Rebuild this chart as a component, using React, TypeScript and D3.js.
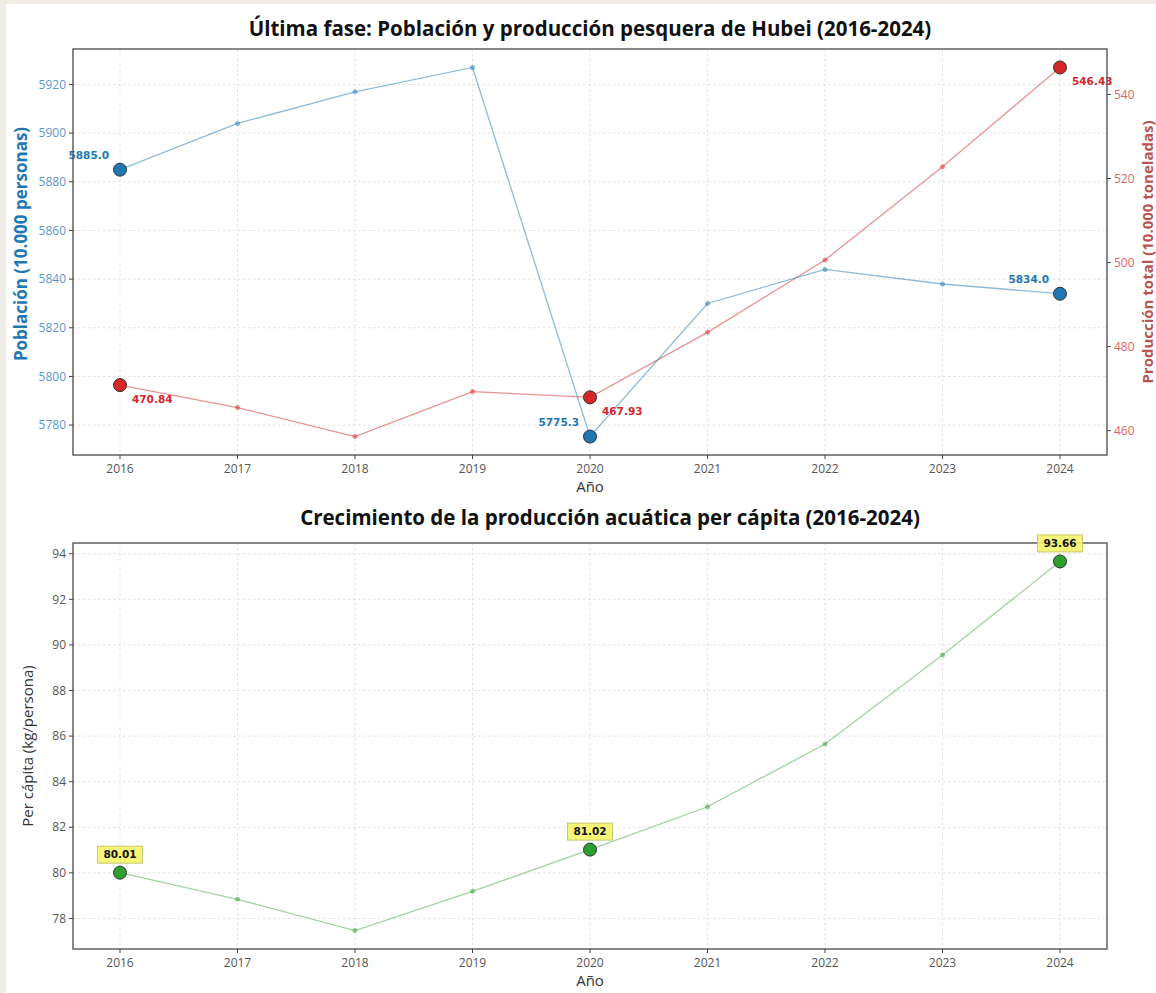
import * as d3 from "d3";

// Data
const years = [2016, 2017, 2018, 2019, 2020, 2021, 2022, 2023, 2024];
const population = [5885.0, 5904, 5917, 5927, 5775.3, 5830, 5844, 5838, 5834.0];
const production = [470.84, 465.5, 458.6, 469.3, 467.93, 483.4, 500.6, 522.8, 546.43];
const perCapita = [80.01, 78.84, 77.47, 79.19, 81.02, 82.9, 85.65, 89.56, 93.66];

const popTicks = [5780, 5800, 5820, 5840, 5860, 5880, 5900, 5920];
const prodTicks = [460, 480, 500, 520, 540];
const pcTicks = [78, 80, 82, 84, 86, 88, 90, 92, 94];

// indices of highlighted points
const popMarked = [0, 4, 8];
const prodMarked = [0, 4, 8];
const pcMarked = [0, 4, 8];

const W = 1156;
const H = 993;
const FONT = "'Open Sans', 'Noto Sans', sans-serif";
const NUMFONT = "'DejaVu Sans', sans-serif";

const BLUE = "#1f77b4";
const RED = "#d62728";
const GREEN = "#2ca02c";

function pad(ext: [number, number]): [number, number] {
  const m = (ext[1] - ext[0]) * 0.05;
  return [ext[0] - m, ext[1] + m];
}

export default function App() {
  const left = 73;
  const right = 1107;

  const x = d3.scaleLinear().domain([2015.6, 2024.4]).range([left, right]);

  // top panel
  const t = { top: 49, bottom: 455 };
  const yPop = d3.scaleLinear().domain(pad(d3.extent(population) as [number, number])).range([t.bottom, t.top]);
  const yProd = d3.scaleLinear().domain(pad(d3.extent(production) as [number, number])).range([t.bottom, t.top]);

  // bottom panel
  const b = { top: 543, bottom: 949 };
  const yPc = d3.scaleLinear().domain(pad(d3.extent(perCapita) as [number, number])).range([b.bottom, b.top]);

  const linePop = d3.line<number>().x((_, i) => x(years[i])).y((d) => yPop(d));
  const lineProd = d3.line<number>().x((_, i) => x(years[i])).y((d) => yProd(d));
  const linePc = d3.line<number>().x((_, i) => x(years[i])).y((d) => yPc(d));

  const grid = (top: number, bottom: number, ys: number[]) => (
    <g stroke="#dcdcdc" strokeWidth={0.8} strokeDasharray="2.5,2.5">
      {years.map((yr) => (
        <line key={"v" + yr} x1={x(yr)} x2={x(yr)} y1={top} y2={bottom} />
      ))}
      {ys.map((v, i) => (
        <line key={"h" + i} x1={left} x2={right} y1={v} y2={v} />
      ))}
    </g>
  );

  const xAxis = (bottom: number) => (
    <g>
      {years.map((yr) => (
        <g key={yr} transform={`translate(${x(yr)},${bottom})`}>
          <line y2={4} stroke="#444" />
          <text y={18} textAnchor="middle" fontSize={12} fill="#555" fontFamily={FONT}>
            {yr}
          </text>
        </g>
      ))}
    </g>
  );

  const frame = (top: number, bottom: number) => (
    <rect x={left} y={top} width={right - left} height={bottom - top} fill="none" stroke="#555" strokeWidth={1.4} />
  );

  return (
    <div style={{ position: "absolute", left: 0, top: 0 }}>
      <svg width={W} height={H} style={{ display: "block" }}>
        <rect width={W} height={H} fill="#f0ede6" />
        <rect x={6} y={4} width={W - 6} height={H - 4} fill="#ffffff" />

        {/* ===== top panel ===== */}
        <text x={590} y={36} textAnchor="middle" fontSize={20.5} fontWeight={700} fill="#111" fontFamily={FONT}>
          Última fase: Población y producción pesquera de Hubei (2016-2024)
        </text>
        {grid(t.top, t.bottom, popTicks.map((v) => yPop(v)))}

        <path d={lineProd(production) || ""} fill="none" stroke={RED} strokeOpacity={0.5} strokeWidth={1.3} />
        {production.map((v, i) => (
          <circle key={"pr" + i} cx={x(years[i])} cy={yProd(v)} r={2.5} fill={RED} fillOpacity={0.5} />
        ))}
        <path d={linePop(population) || ""} fill="none" stroke={BLUE} strokeOpacity={0.5} strokeWidth={1.3} />
        {population.map((v, i) => (
          <circle key={"po" + i} cx={x(years[i])} cy={yPop(v)} r={2.5} fill={BLUE} fillOpacity={0.5} />
        ))}

        {prodMarked.map((i) => (
          <circle key={"prm" + i} cx={x(years[i])} cy={yProd(production[i])} r={6.5} fill={RED} stroke="#333" strokeWidth={1} />
        ))}
        {popMarked.map((i) => (
          <circle key={"pom" + i} cx={x(years[i])} cy={yPop(population[i])} r={6.5} fill={BLUE} stroke="#333" strokeWidth={1} />
        ))}

        {popMarked.map((i) => (
          <text
            key={"pol" + i}
            x={x(years[i]) - 11}
            y={yPop(population[i]) - 11}
            textAnchor="end"
            fontSize={10.5}
            fontWeight={700}
            fill={BLUE}
            fontFamily={NUMFONT}
          >
            {population[i].toFixed(1)}
          </text>
        ))}
        {prodMarked.map((i) => (
          <text
            key={"prl" + i}
            x={x(years[i]) + 12}
            y={yProd(production[i]) + 18}
            fontSize={10.5}
            fontWeight={700}
            fill={RED}
            fontFamily={NUMFONT}
          >
            {production[i].toFixed(2)}
          </text>
        ))}

        {frame(t.top, t.bottom)}
        {xAxis(t.bottom)}

        {/* left axis */}
        {popTicks.map((v) => (
          <g key={"lt" + v} transform={`translate(${left},${yPop(v)})`}>
            <line x2={-4} stroke="#444" />
            <text x={-7} dy="0.35em" textAnchor="end" fontSize={12} fill="#5a97cf" fontFamily={FONT}>
              {v}
            </text>
          </g>
        ))}
        {/* right axis */}
        {prodTicks.map((v) => (
          <g key={"rt" + v} transform={`translate(${right},${yProd(v)})`}>
            <line x2={4} stroke="#444" />
            <text x={7} dy="0.35em" fontSize={12} fill="#e06666" fontFamily={FONT}>
              {v}
            </text>
          </g>
        ))}

        <text
          transform={`translate(27,${(t.top + t.bottom) / 2 - 8}) rotate(-90)`}
          textAnchor="middle"
          fontSize={17}
          fontWeight={700}
          fill={BLUE}
          fontFamily={FONT}
        >
          Población (10.000 personas)
        </text>
        <text
          transform={`translate(1153,${(t.top + t.bottom) / 2}) rotate(-90)`}
          textAnchor="middle"
          fontSize={15}
          fontWeight={700}
          fill="#b85450"
          fontFamily={FONT}
        >
          Producción total (10.000 toneladas)
        </text>
        <text x={590} y={492} textAnchor="middle" fontSize={15} fill="#333" fontFamily={FONT}>
          Año
        </text>

        {/* ===== bottom panel ===== */}
        <text x={610} y={525} textAnchor="middle" fontSize={20.5} fontWeight={700} fill="#111" fontFamily={FONT}>
          Crecimiento de la producción acuática per cápita (2016-2024)
        </text>
        {grid(b.top, b.bottom, pcTicks.map((v) => yPc(v)))}

        <path d={linePc(perCapita) || ""} fill="none" stroke={GREEN} strokeOpacity={0.45} strokeWidth={1.3} />
        {perCapita.map((v, i) => (
          <circle key={"pc" + i} cx={x(years[i])} cy={yPc(v)} r={2.5} fill={GREEN} fillOpacity={0.5} />
        ))}
        {pcMarked.map((i) => (
          <circle key={"pcm" + i} cx={x(years[i])} cy={yPc(perCapita[i])} r={6.5} fill={GREEN} stroke="#333" strokeWidth={1} />
        ))}

        {frame(b.top, b.bottom)}
        {pcMarked.map((i) => {
          const cx = x(years[i]);
          const cy = yPc(perCapita[i]) - 18;
          return (
            <g key={"pcl" + i}>
              <rect x={cx - 22.5} y={cy - 8.5} width={45} height={17} fill="#f4f46a" fillOpacity={0.9} stroke="#bdbd60" strokeWidth={0.8} />
              <text x={cx} y={cy} dy="0.36em" textAnchor="middle" fontSize={10.5} fontWeight={700} fill="#111" fontFamily={NUMFONT}>
                {perCapita[i].toFixed(2)}
              </text>
            </g>
          );
        })}
        {xAxis(b.bottom)}

        {pcTicks.map((v) => (
          <g key={"bt" + v} transform={`translate(${left},${yPc(v)})`}>
            <line x2={-4} stroke="#444" />
            <text x={-7} dy="0.35em" textAnchor="end" fontSize={12} fill="#555" fontFamily={FONT}>
              {v}
            </text>
          </g>
        ))}

        <text
          transform={`translate(33,${(b.top + b.bottom) / 2}) rotate(-90)`}
          textAnchor="middle"
          fontSize={15}
          fill="#333"
          fontFamily={FONT}
        >
          Per cápita (kg/persona)
        </text>
        <text x={590} y={986} textAnchor="middle" fontSize={15} fill="#333" fontFamily={FONT}>
          Año
        </text>
      </svg>
    </div>
  );
}
